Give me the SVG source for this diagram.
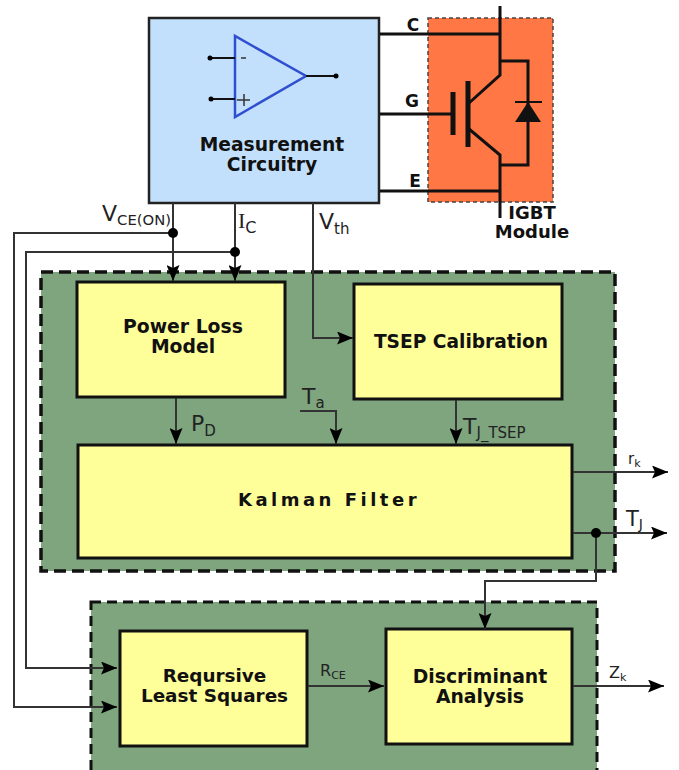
<svg xmlns="http://www.w3.org/2000/svg" width="679" height="770" viewBox="0 0 679 770">
<style>
.t{font-family:"DejaVu Sans",Verdana,sans-serif;font-weight:bold;fill:#111;text-anchor:middle}
.l{font-family:"DejaVu Sans",Verdana,sans-serif;fill:#222}
.box{fill:#ffff99;stroke:#111;stroke-width:3}
.panel{fill:#7ea57e;stroke:#111;stroke-width:3.5;stroke-dasharray:12 6}
.panel2{fill:#7ea57e;stroke:#111;stroke-width:3;stroke-dasharray:10 6}
.w{fill:none;stroke:#333;stroke-width:2}
.k{fill:none;stroke:#111;stroke-width:3}
.dot{fill:#000}
</style>
<defs>
<marker id="a" markerUnits="userSpaceOnUse" markerWidth="16" markerHeight="13" refX="16" refY="6.5" orient="auto"><path d="M0 0L16 6.5L0 13L3 6.5Z" fill="#000"/></marker>
</defs>
<rect width="679" height="770" fill="#fff"/>
<g id="igbt-module">
<rect x="428" y="18" width="125" height="184" fill="#ff7744" stroke="#444" stroke-width="1.5" stroke-dasharray="4 3"/>
<path class="k" d="M500 6V75L469 103M469 129L500 155V218M500 61H528V165H500"/>
<path class="k" d="M452 114H380"/>
<path d="M453 92V135M468 81V147" fill="none" stroke="#111" stroke-width="5"/>
<path d="M515 102H542" stroke="#111" stroke-width="2"/>
<path d="M528 102L541 122H515Z" fill="#111"/>
<text class="t" font-size="18" x="532" y="219">IGBT<tspan x="532" dy="19">Module</tspan></text>
</g>
<g id="measurement-circuitry">
<rect x="149" y="18" width="230" height="185" fill="#c2e0fb" stroke="#222" stroke-width="2.5"/>
<path d="M235 36V117L306 76Z" fill="none" stroke="#2f4fd0" stroke-width="2.5"/>
<path d="M211 58H235M211 99H235M306 76H336" stroke="#111" stroke-width="2"/>
<circle class="dot" cx="210" cy="58" r="2.5"/><circle class="dot" cx="211" cy="99" r="2.5"/><circle class="dot" cx="336" cy="76" r="2.5"/>
<path d="M241 58H246M237 100H250M244 94V106" stroke="#333" stroke-width="1.5"/>
<text class="t" font-size="18.7" x="272" y="151">Measurement<tspan x="272" dy="20">Circuitry</tspan></text>
</g>
<g id="panel-top"><rect class="panel" x="41" y="272" width="574" height="299"/></g>
<g id="panel-bottom"><rect class="panel2" x="91" y="602" width="506" height="170"/></g>
<g id="power-loss-model"><rect class="box" x="77" y="282" width="208" height="115"/>
<text class="t" font-size="18.800" x="183" y="333">Power Loss<tspan x="183" dy="20">Model</tspan></text></g>
<g id="tsep-calibration"><rect class="box" x="354" y="284" width="208" height="115"/>
<text class="t" font-size="18.6" x="461" y="348">TSEP Calibration</text></g>
<g id="kalman-filter"><rect class="box" x="78" y="445" width="494" height="113"/>
<text class="t" font-size="18" letter-spacing="3.5" x="329" y="506">Kalman Filter</text></g>
<g id="recursive-least-squares"><rect class="box" x="120" y="631" width="187" height="115"/>
<text class="t" font-size="18.4" x="214.500" y="682">Reqursive<tspan x="214.500" dy="19.500">Least Squares</tspan></text></g>
<g id="discriminant-analysis"><rect class="box" x="386" y="629" width="186" height="115"/>
<text class="t" font-size="18.8" x="480" y="683">Discriminant<tspan x="480" dy="20">Analysis</tspan></text></g>
<g id="connectors">
<path class="k" d="M380 34H500M380 191H500"/>
<path class="w" d="M173 203V281" marker-end="url(#a)"/>
<path class="w" d="M235 203V281" marker-end="url(#a)"/>
<path class="w" d="M173 233H14V707H117" marker-end="url(#a)"/>
<path class="w" d="M235 252H26V668H117" marker-end="url(#a)"/>
<path class="w" d="M313 203V338H353" marker-end="url(#a)"/>
<path class="w" d="M176 398V444" marker-end="url(#a)"/>
<path class="w" d="M300 411H336V444" marker-end="url(#a)"/>
<path class="w" d="M456 400V444" marker-end="url(#a)"/>
<path class="w" d="M573 472H668" marker-end="url(#a)"/>
<path class="w" d="M573 533H667" marker-end="url(#a)"/>
<path class="w" d="M596 533V581H485V629" marker-end="url(#a)"/>
<path class="w" d="M308 686H384" marker-end="url(#a)"/>
<path class="w" d="M573 686H664" marker-end="url(#a)"/>
<circle class="dot" cx="173" cy="233" r="5"/><circle class="dot" cx="235" cy="252" r="5"/><circle class="dot" cx="596" cy="533" r="5"/>
</g>
<g id="labels">
<text class="t" font-size="17" x="413" y="31">C</text>
<text class="t" font-size="17" x="412" y="107">G</text>
<text class="t" font-size="17" x="415" y="187">E</text>
<text class="l" font-size="22" x="102" y="221">V<tspan font-size="14.800" dy="4">CE(ON)</tspan></text>
<text class="l" font-size="22" x="238" y="228" style="font-family:'Liberation Serif',serif">I<tspan font-size="16" dy="5" style="font-family:'DejaVu Sans',sans-serif">C</tspan></text>
<text class="l" font-size="22" x="319" y="229">V<tspan font-size="15" dy="5">th</tspan></text>
<text class="l" font-size="22" x="191" y="431">P<tspan font-size="15" dy="5">D</tspan></text>
<text class="l" font-size="22" x="302" y="404">T<tspan font-size="15" dy="4">a</tspan></text>
<text class="l" font-size="22" x="463" y="434">T<tspan font-size="15" dy="4">J_TSEP</tspan></text>
<text class="l" font-size="15" x="628" y="464">r<tspan font-size="11" dy="3">k</tspan></text>
<text class="l" font-size="21" x="626" y="526">T<tspan font-size="14" dy="3">J</tspan></text>
<text class="l" font-size="16" x="320" y="676">R<tspan font-size="11" dy="3">CE</tspan></text>
<text class="l" font-size="16" x="609" y="678">Z<tspan font-size="11" dy="3">k</tspan></text>
</g>
</svg>
